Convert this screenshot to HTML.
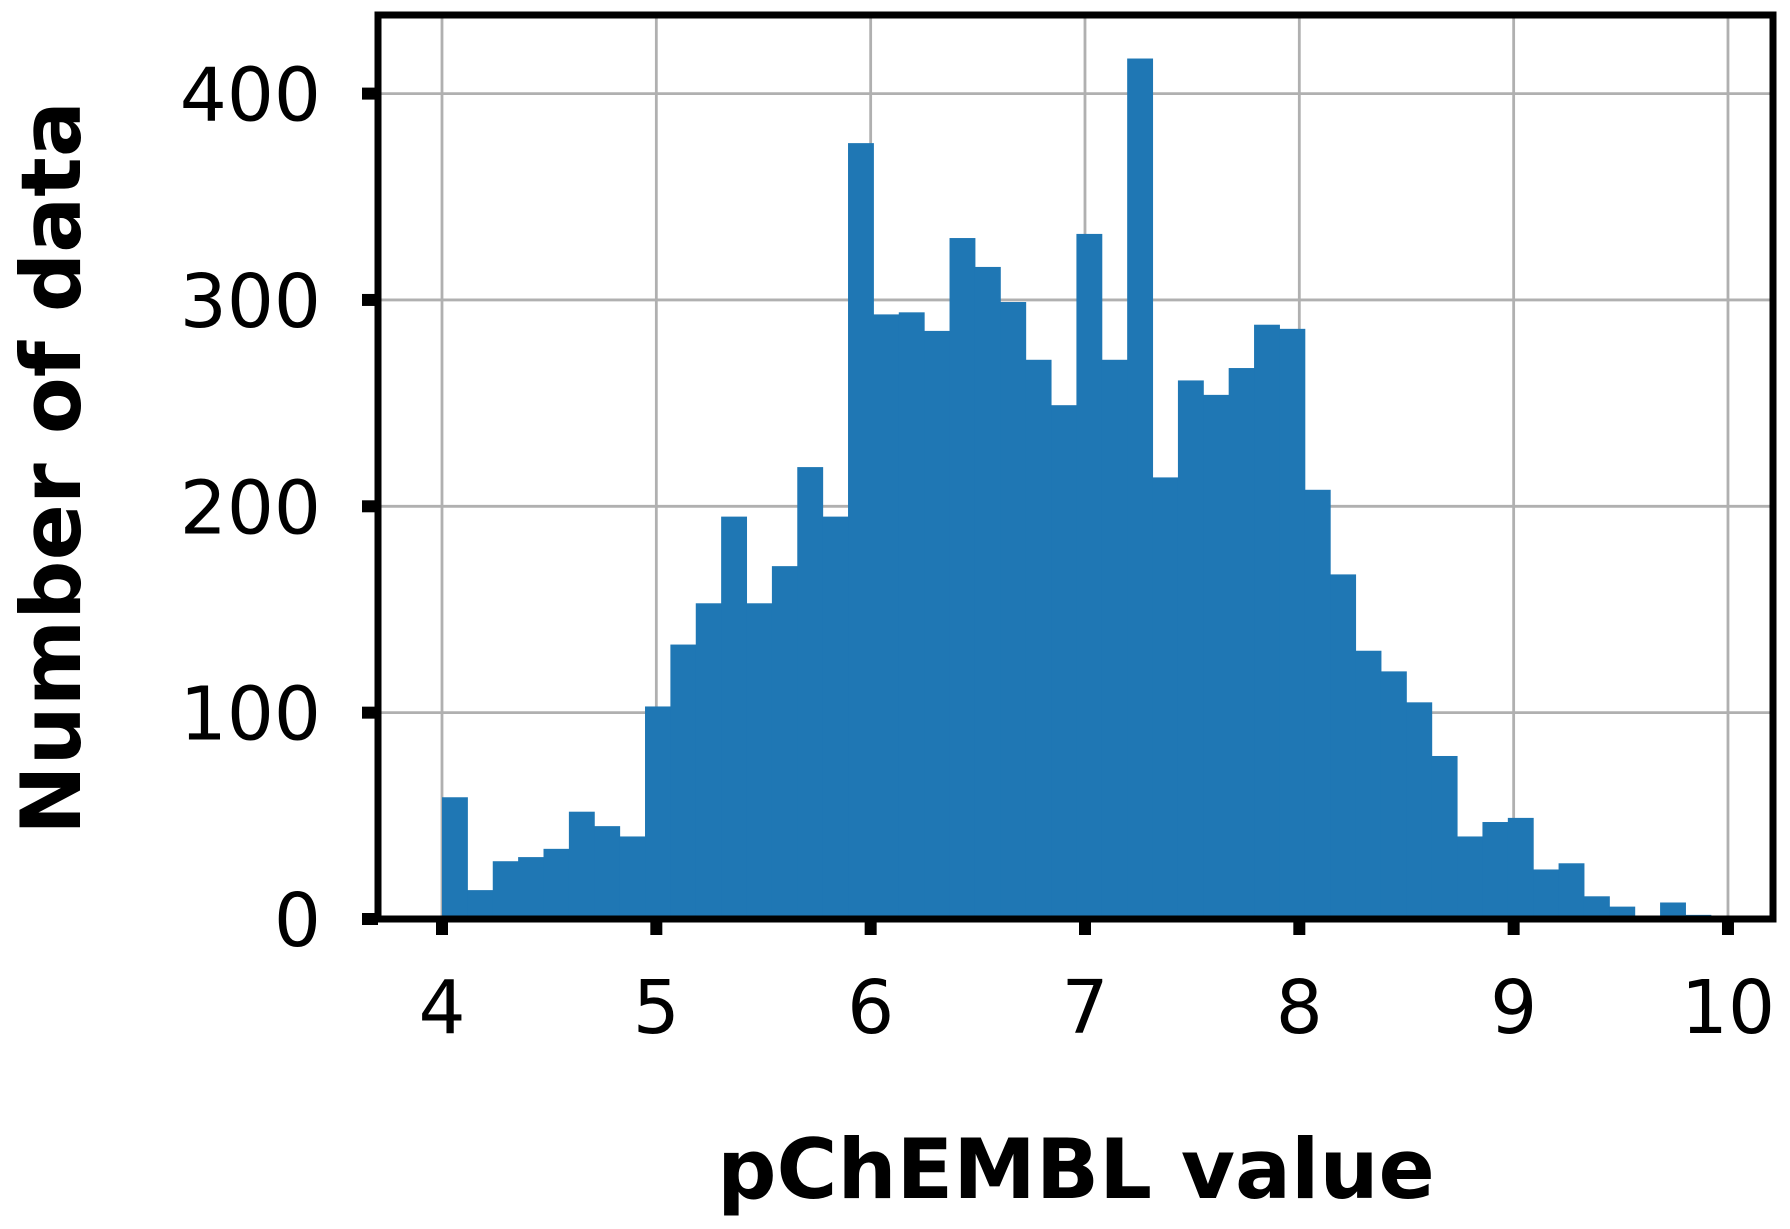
<!DOCTYPE html>
<html><head><meta charset="utf-8"><style>
html,body{margin:0;padding:0;background:#fff;}
svg{display:block;}
text{font-family:"DejaVu Sans","Liberation Sans",sans-serif;fill:#000;}
</style></head><body>
<svg id="chart" width="1790" height="1229" viewBox="0 0 1790 1229">
<g id="grid"></g>
<g id="bars"></g>
<g id="axes"></g>
<text x="1076" y="1198" font-size="83" font-weight="bold" text-anchor="middle">pChEMBL value</text>
<text transform="translate(80,468) rotate(-90)" font-size="83" font-weight="bold" text-anchor="middle">Number of data</text>
</svg>
<script>
const binStart = 4.0;
const binWidth = 0.1184;
const counts = [59,14,28,30,34,52,45,40,103,133,153,195,153,171,219,195,376,293,294,285,330,316,299,271,249,332,271,417,214,261,254,267,288,286,208,167,130,120,105,79,40,47,49,24,27,11,6,0,8,2];
const xTicks = [4,5,6,7,8,9,10];
const yTicks = [0,100,200,300,400];

const L=378,R=1773,T=15,B=919;
function xs(v){return 442+(v-4)*214.33;}
function ys(v){return 919-v*2.0635;}
const NS="http://www.w3.org/2000/svg";
function mk(tag,attrs,parent){const e=document.createElementNS(NS,tag);for(const k in attrs)e.setAttribute(k,attrs[k]);parent.appendChild(e);return e;}
const grid=document.getElementById('grid'),bars=document.getElementById('bars'),axes=document.getElementById('axes');
xTicks.forEach(t=>{
  const l=mk('line',{x1:xs(t),x2:xs(t),y1:T,y2:B,stroke:'#b0b0b0','stroke-width':2.8},grid);
  
  
});
yTicks.forEach(t=>{
  const l=mk('line',{x1:L,x2:R,y1:ys(t),y2:ys(t),stroke:'#b0b0b0','stroke-width':2.8},grid);
  
  
});
counts.forEach((c,i)=>{
  if(c<=0)return;
  const x0=xs(binStart+i*binWidth),x1=xs(binStart+(i+1)*binWidth);
  const r=mk('rect',{x:x0,y:ys(c),width:x1-x0+0.5,height:ys(0)-ys(c),fill:'#1f77b4'},bars);
  
  
});
const sp=mk('rect',{x:L,y:T,width:R-L,height:B-T,fill:'none',stroke:'#000','stroke-width':7},axes);


xTicks.forEach(t=>{
  const k=mk('line',{x1:xs(t),x2:xs(t),y1:B,y2:B+16,stroke:'#000','stroke-width':12},axes);
  
  
  const tx=mk('text',{x:xs(t),y:1033,'font-size':74,'text-anchor':'middle'},axes);
  tx.textContent=t;
  
  
});
yTicks.forEach(t=>{
  const k=mk('line',{x1:L-16,x2:L,y1:ys(t),y2:ys(t),stroke:'#000','stroke-width':12},axes);
  
  
  const tx=mk('text',{x:321,y:ys(t)+27,'font-size':74,'text-anchor':'end'},axes);
  tx.textContent=t;
  
  
});
</script>
</body></html>
